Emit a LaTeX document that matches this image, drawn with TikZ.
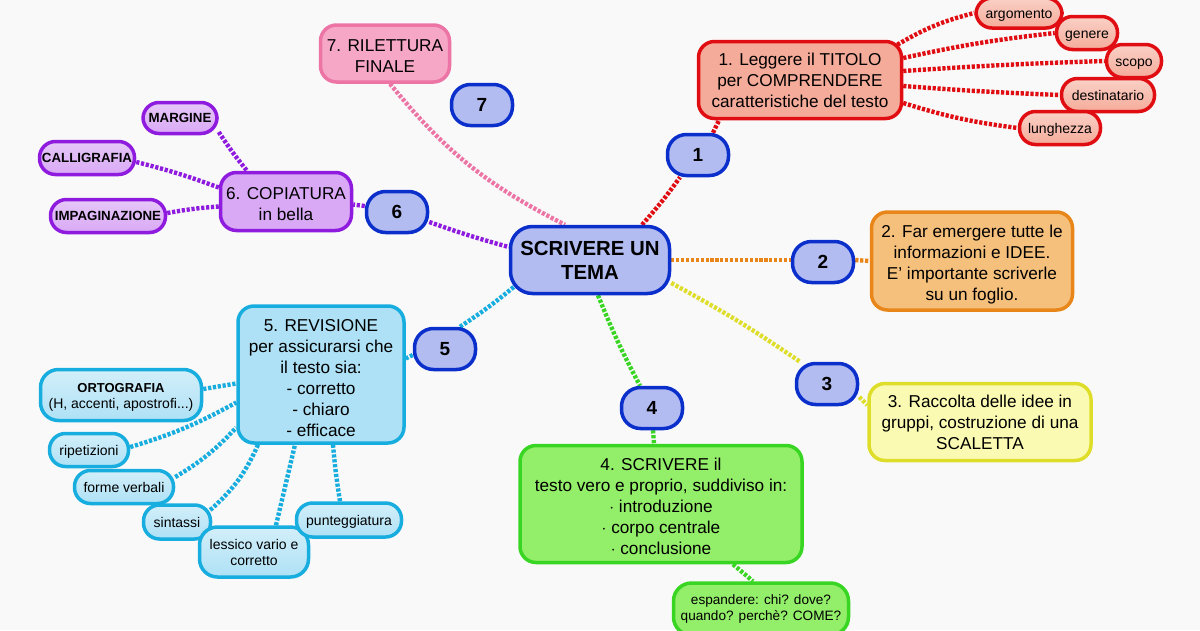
\documentclass[tikz,border=0pt]{standalone}
\usepackage{fontspec}
\setmainfont{Liberation Sans}
\usetikzlibrary{backgrounds}
\definecolor{paper}{HTML}{F9F9F9}
\definecolor{bluedge}{HTML}{0B2FCB}
\definecolor{bluefill}{HTML}{B3BCF1}
\definecolor{rededge}{HTML}{E00D12}
\definecolor{redfill}{HTML}{F5AB99}
\definecolor{orangedge}{HTML}{E9861A}
\definecolor{orangefill}{HTML}{F5BF7C}
\definecolor{yellowedge}{HTML}{DEDE2A}
\definecolor{yellowfill}{HTML}{FAFAB2}
\definecolor{greenedge}{HTML}{38D622}
\definecolor{greenfill}{HTML}{93EE6A}
\definecolor{cyanedge}{HTML}{18ADDF}
\definecolor{cyanfill}{HTML}{AEE1F5}
\definecolor{purpledge}{HTML}{8E1BDE}
\definecolor{purplefill}{HTML}{D9A9F5}
\definecolor{pinkedge}{HTML}{EC75A6}
\definecolor{pinkfill}{HTML}{F6A7C6}
\newcommand{\lowr}[1]{\rule{0pt}{#1pt}}
\tikzset{
  box/.style={draw, line width=3.5pt, rounded corners=16pt, align=center, inner sep=0pt},
  numbox/.style={box, draw=bluedge, fill=bluefill, minimum width=61pt, minimum height=41pt,
    rounded corners=19pt, font=\fontsize{19}{21}\selectfont\bfseries},
  mainbox/.style={box, draw=bluedge, fill=bluefill, minimum width=159pt, minimum height=67pt,
    rounded corners=22pt, font=\fontsize{20.4}{24}\selectfont\bfseries},
  txt/.style={font=\fontsize{17.2}{21}\selectfont},
  small/.style={font=\fontsize{14}{16}\selectfont, rounded corners=16pt},
  oneline/.style={text height=13pt, text depth=3pt},
  caps/.style={font=\fontsize{13.3}{15}\selectfont\bfseries},
  redbox/.style={box, draw=rededge, fill=redfill},
  orangebox/.style={box, draw=orangedge, fill=orangefill},
  yellowbox/.style={box, draw=yellowedge, fill=yellowfill},
  greenbox/.style={box, draw=greenedge, fill=greenfill},
  cyanbox/.style={box, draw=cyanedge, fill=cyanfill},
  purplebox/.style={box, draw=purpledge, fill=purplefill},
  pinkbox/.style={box, draw=pinkedge, fill=pinkfill},
  redleaf/.style={redbox, small, oneline, top color=redfill!55!white, bottom color=redfill},
  cyanleaf/.style={cyanbox, small, top color=cyanfill!55!white, bottom color=cyanfill},
  purpleleaf/.style={purplebox, small, top color=purplefill!65!white, bottom color=purplefill},
  link/.style={line width=4.4pt, dash pattern=on 3.2pt off 1.7pt}
}
\begin{document}
\begin{tikzpicture}[x=1pt, y=-1pt]
  \useasboundingbox (0,0) rectangle (1200,630);

  % centre and number boxes
  \node[mainbox] (main) at (590,260) {SCRIVERE UN\\TEMA};
  \node[numbox] (n1) at (698,155) {1};
  \node[numbox] (n2) at (823,262) {2};
  \node[numbox] (n3) at (827,384) {3};
  \node[numbox] (n4) at (652,408) {4};
  \node[numbox] (n5) at (445,349) {5};
  \node[numbox] (n6) at (397,212) {6};
  \node[numbox] (n7) at (482,105) {7};

  % step boxes
  \node[redbox, txt, minimum width=203pt, minimum height=77pt] (t1) at (800,80)
    {1. Leggere il TITOLO\\per COMPRENDERE\\caratteristiche del testo};
  \node[orangebox, txt, minimum width=201pt, minimum height=98pt] (t2) at (972,261)
    {\lowr{19}2. Far emergere tutte le\\informazioni e IDEE.\\E' importante scriverle\\su un foglio.};
  \node[yellowbox, txt, minimum width=222pt, minimum height=77pt] (t3) at (980,422)
    {3. Raccolta delle idee in\\gruppi, costruzione di una\\SCALETTA};
  \node[greenbox, txt, minimum width=282pt, minimum height=117pt] (t4) at (661,504)
    {\lowr{17}4. SCRIVERE il\\testo vero e proprio, suddiviso in:\\$\cdot$ introduzione\\$\cdot$ corpo centrale\\$\cdot$ conclusione};
  \node[cyanbox, txt, minimum width=166pt, minimum height=137pt] (t5) at (321,374.5)
    {\lowr{20}5. REVISIONE\\per assicurarsi che\\il testo sia:\\- corretto\\- chiaro\\- efficace};
  \node[purplebox, txt, minimum width=131pt, minimum height=58pt] (t6) at (286,201.5)
    {\lowr{17}6. COPIATURA\\in bella};
  \node[pinkbox, txt, minimum width=129pt, minimum height=57pt] (t7) at (385,53.5)
    {\lowr{16}7. RILETTURA\\FINALE};

  % red leaves
  \node[redleaf, minimum width=86pt, minimum height=30pt] (argomento) at (1019,13) {argomento};
  \node[redleaf, minimum width=61pt, minimum height=33pt] (genere) at (1087,33) {genere};
  \node[redleaf, minimum width=55pt, minimum height=33pt] (scopo) at (1134,61) {scopo};
  \node[redleaf, minimum width=93pt, minimum height=33pt] (destinatario) at (1108,95) {destinatario};
  \node[redleaf, minimum width=81pt, minimum height=33pt] (lunghezza) at (1060,128) {lunghezza};

  % cyan leaves
  \node[cyanleaf, minimum width=161pt, minimum height=51pt, rounded corners=18pt] (ortografia) at (121,395)
    {\lowr{14}\textbf{\fontsize{13}{16}\selectfont ORTOGRAFIA}\\(H, accenti, apostrofi...)};
  \node[cyanleaf, oneline, minimum width=79pt, minimum height=33pt] (ripetizioni) at (89,450) {ripetizioni};
  \node[cyanleaf, oneline, minimum width=99pt, minimum height=33pt] (forme) at (124,487) {forme verbali};
  \node[cyanleaf, oneline, minimum width=67pt, minimum height=34pt] (sintassi) at (177,522) {sintassi};
  \node[cyanleaf, minimum width=109pt, minimum height=50pt, rounded corners=18pt] (lessico) at (254,552)
    {lessico vario e\\corretto};
  \node[cyanleaf, oneline, minimum width=105pt, minimum height=34pt] (punteggiatura) at (349,520) {punteggiatura};

  % purple leaves
  \node[purpleleaf, caps, minimum width=74pt, minimum height=31pt] (margine) at (180,118) {MARGINE};
  \node[purpleleaf, caps, minimum width=95pt, minimum height=33pt] (calligrafia) at (87,158) {CALLIGRAFIA};
  \node[purpleleaf, caps, minimum width=115pt, minimum height=33pt] (impaginazione) at (108,216) {IMPAGINAZIONE};

  % green leaf
  \node[greenbox, small, font=\fontsize{13.6}{16}\selectfont, minimum width=175pt, minimum height=52pt, rounded corners=18pt] (espandere) at (761,609)
    {espandere: chi? dove?\\quando? perchè? COME?};

  \begin{scope}[on background layer]
    \fill[paper] (0,0) rectangle (1200,630);
    % trunk links
    \draw[link, rededge] (main.north) ++(52,0) to[bend right=3] ([xshift=-18pt]n1.south);
    \draw[link, rededge] (n1.north) ++(15,0) -- ([xshift=-81pt]t1.south);
    \draw[link, orangedge] (main.east) -- ([yshift=2pt]n2.west);
    \draw[link, orangedge] (n2.east) ++(0,-2) -- (t2.west);
    \draw[link, yellowedge] (main.east) ++(0,23) to[bend left=3] ([xshift=-27pt]n3.north);
    \draw[link, yellowedge] (n3.east) ++(0,13) -- ([yshift=17pt]t3.west);
    \draw[link, greenedge] (main.south) ++(8,0) to[bend right=3] ([xshift=-12pt]n4.north);
    \draw[link, greenedge] (n4.south) ++(1,0) -- ([xshift=-7pt]t4.north);
    \draw[link, cyanedge] (main.west) ++(5,27) to[bend left=3] ([xshift=15pt]n5.north);
    \draw[link, cyanedge] (n5.west) ++(0,6) -- ([yshift=16pt]t5.east);
    \draw[link, purpledge] (n6.east) ++(0,10) to[bend right=2] ([yshift=13pt]main.west);
    \draw[link, purpledge] (n6.west) ++(0,-6) -- ([yshift=-3pt]t6.east);
    \draw[link, pinkedge] (t7.south) ++(5,0) to[bend right=12] ([xshift=-25pt]main.north);
    % red leaf links
    \draw[link, rededge] (t1.north east) ++(-6,5) to[bend left=8] (argomento.west);
    \draw[link, rededge] (t1.east) ++(0,-22) to[bend left=3] (genere.west);
    \draw[link, rededge] (t1.east) ++(0,-9) to[bend left=1] (scopo.west);
    \draw[link, rededge] (t1.east) ++(0,6) to[bend right=1] (destinatario.west);
    \draw[link, rededge] (t1.east) ++(0,23) to[bend right=5] (lunghezza.west);
    % cyan leaf links
    \draw[link, cyanedge] (ortografia.east) ++(0,-6) -- ([yshift=-9pt]t5.west);
    \draw[link, cyanedge] (ripetizioni.east) ++(0,-3) to[bend right=6] ([yshift=-28pt]t5.west);
    \draw[link, cyanedge] (forme.east) ++(0,-10) to[bend right=8] ([yshift=-53pt]t5.west);
    \draw[link, cyanedge] (sintassi.east) ++(-2,-12) to[bend right=12] ([xshift=-63pt]t5.south);
    \draw[link, cyanedge] (lessico.north) ++(22,0) -- ([xshift=-26pt]t5.south);
    \draw[link, cyanedge] (punteggiatura.north) ++(-9,0) to[bend left=2] ([xshift=12pt]t5.south);
    % purple leaf links
    \draw[link, purpledge] (margine.east) ++(0,14) to[bend right=3] ([xshift=-39pt]t6.north);
    \draw[link, purpledge] (calligrafia.east) ++(0,4) to[bend left=3] ([yshift=14pt]t6.west);
    \draw[link, purpledge] (impaginazione.east) ++(0,-3) to[bend left=3] ([yshift=-5pt]t6.west);
    % green leaf link
    \draw[link, greenedge] (t4.south) ++(72,0) -- ([xshift=-8pt]espandere.north);
  \end{scope}
\end{tikzpicture}
\end{document}
